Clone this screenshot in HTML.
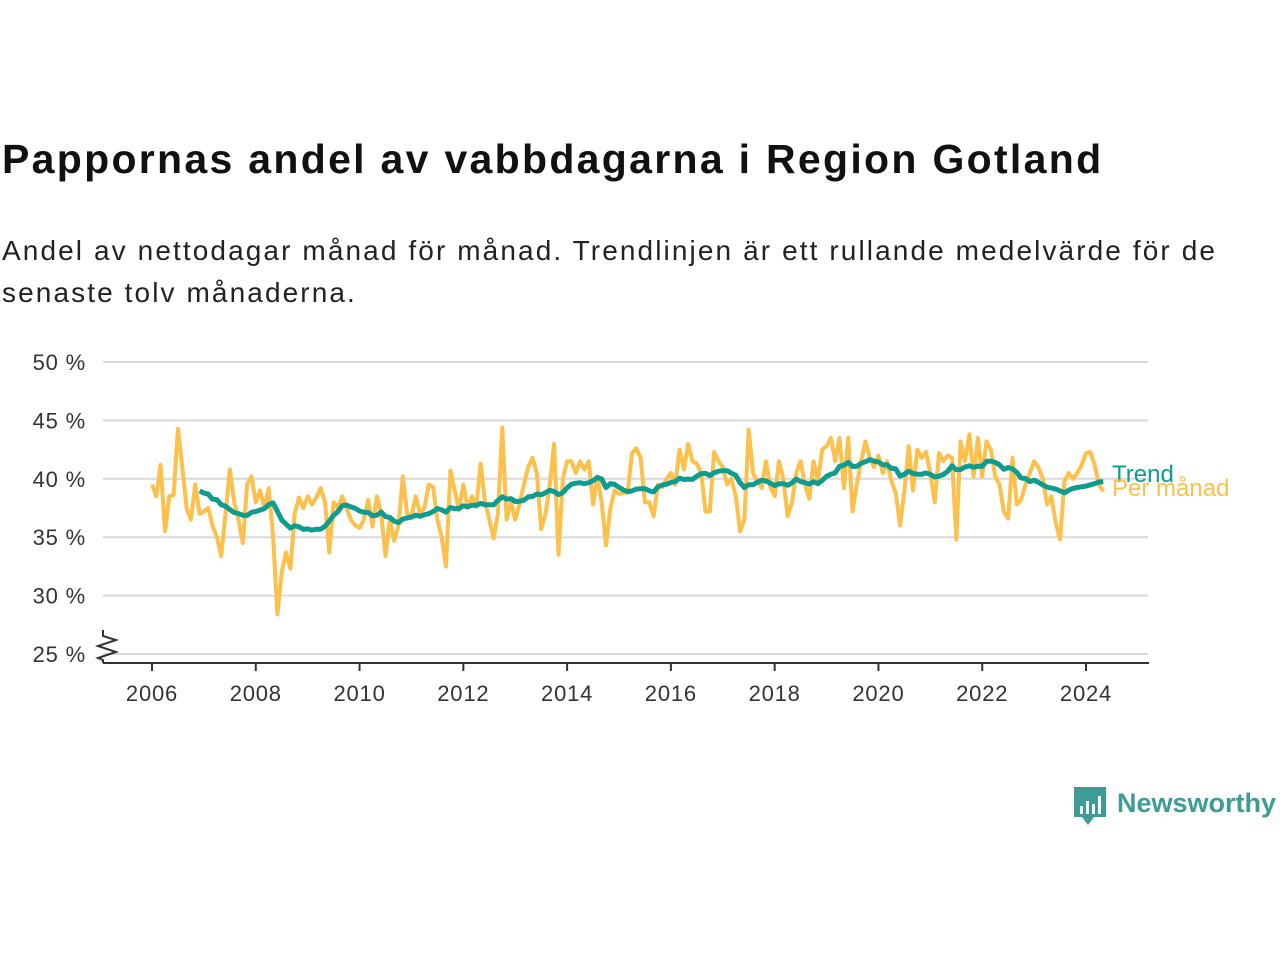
<!DOCTYPE html>
<html><head><meta charset="utf-8"><style>
body{margin:0;background:#fff;font-family:"Liberation Sans","DejaVu Sans",sans-serif;}
#wrap{position:relative;width:1280px;height:960px;overflow:hidden;}
h1{position:absolute;left:2px;top:136px;margin:0;font-size:41px;font-weight:bold;color:#111;letter-spacing:2.3px;white-space:nowrap;}
#sub{position:absolute;left:2px;top:230px;margin:0;font-size:28px;line-height:42px;color:#222;width:1270px;letter-spacing:2.1px;white-space:nowrap;}
</style></head><body>
<div id="wrap">
<h1>Pappornas andel av vabbdagarna i Region Gotland</h1>
<p id="sub">Andel av nettodagar månad för månad. Trendlinjen är ett rullande medelvärde för de<br>senaste tolv månaderna.</p>
<svg id="chart" width="1280" height="960" style="position:absolute;left:0;top:0"></svg>
</div>
<script>
const startYear = 2006;
const monthly = [
39.5,38.5,41.2,35.5,38.5,38.6,44.3,41,37.5,36.5,39.5,37,
37.2,37.5,36,35,33.4,37,40.8,38,36.5,34.5,39.5,40.2,
38,39,37.5,39.2,35,28.4,32,33.7,32.3,37,38.4,37.5,
38.5,37.8,38.4,39.2,38,33.7,38,37.5,38.5,37.5,36.5,36,
35.8,36.5,38.2,35.9,38.5,37,33.4,36.5,34.7,36,40.2,37,
36.8,38.5,37,37.5,39.5,39.3,36.5,35,32.5,40.7,39,37.3,
39.5,37.5,38.5,37.6,41.3,38,36.5,34.9,37,44.4,36.5,38,
36.5,37.8,39.5,41,41.8,40.5,35.7,37,39.5,43,33.5,40,
41.5,41.5,40.5,41.5,40.8,41.5,37.8,40.2,38,34.3,37.5,39,
38.7,38.8,38.8,42.2,42.6,41.8,38,38,36.8,39.5,39.3,40,
40.5,39.5,42.5,40.8,43,41.5,41.3,40.5,37.2,37.2,42.3,41.5,
41,39.5,40,38.5,35.5,36.5,44.2,40.5,39.8,39.2,41.5,39.3,
38.5,41.5,40,36.8,38,40.5,41.5,39.5,38.3,41.5,39.7,42.5,
42.8,43.5,41.5,43.5,39.2,43.5,37.2,39.5,41.5,43.2,41.8,41,
42,40.5,41.5,39.8,38.8,36,39,42.8,39,42.5,41.8,42.3,
40.5,38,42.2,41.5,42,41.8,34.8,43.2,41.5,43.8,40.2,43.5,
40.2,43.2,42.5,40.2,39.5,37.2,36.6,41.8,37.8,38.2,39.5,40.5,
41.5,41,40,37.8,38.5,36.2,34.8,39.8,40.5,40,40.5,41.2,
42.2,42.3,41.2,39.5,38.9];
const yTicks = [25,30,35,40,45,50];
const xTicks = [2006,2008,2010,2012,2014,2016,2018,2020,2022,2024];

const svg = document.getElementById('chart');
const NS = 'http://www.w3.org/2000/svg';
const xOf = t => 152 + (t - startYear) * (1086 - 152) / 18;
const yOf = v => 654 - (v - 25) * (654 - 362) / 25;
function mk(tag, attrs){const e=document.createElementNS(NS,tag);for(const k in attrs)e.setAttribute(k,attrs[k]);svg.appendChild(e);return e;}

yTicks.forEach(v=>{
  const g = mk('line',{x1:103,x2:1148,y1:yOf(v),y2:yOf(v),stroke:'#d9d9d9','stroke-width':2});
  
  
  const t = mk('text',{x:86,y:yOf(v)+8,'text-anchor':'end','font-size':22,fill:'#333','font-family':'Liberation Sans, DejaVu Sans, sans-serif','letter-spacing':0.8});
  t.textContent = v+' %';
  
  
});
const ax = mk('line',{x1:103,x2:1149,y1:663,y2:663,stroke:'#333','stroke-width':2});


const zz = mk('polyline',{points:'103,630 103,636 116,640 98,646 116,652 98,658 103,660 103,663',fill:'none',stroke:'#333','stroke-width':2});


xTicks.forEach(y=>{
  const l = mk('line',{x1:xOf(y),x2:xOf(y),y1:663,y2:671,stroke:'#333','stroke-width':2});
  
  
  const t = mk('text',{x:xOf(y),y:701,'text-anchor':'middle','font-size':22,fill:'#333','font-family':'Liberation Sans, DejaVu Sans, sans-serif','letter-spacing':0.8});
  t.textContent = y;
  
  
});
const mPts = monthly.map((v,i)=>xOf(startYear+i/12).toFixed(1)+','+yOf(v).toFixed(1)).join(' ');
const ml = mk('polyline',{points:mPts,fill:'none',stroke:'#fdc04a','stroke-width':4,'stroke-linejoin':'round'});


const tPts=[];
for(let i=11;i<monthly.length;i++){let s=0;for(let j=i-11;j<=i;j++)s+=monthly[j];tPts.push(xOf(startYear+i/12).toFixed(1)+','+yOf(s/12).toFixed(1));}
const tl = mk('polyline',{points:tPts.join(' '),fill:'none',stroke:'#0f9b8e','stroke-width':5,'stroke-linejoin':'round'});


const l1 = mk('text',{x:1112,y:482,'font-size':24,fill:'#0f9b8e','font-family':'Liberation Sans, DejaVu Sans, sans-serif'});
l1.textContent='Trend';


const l2 = mk('text',{x:1112,y:496,'font-size':24,fill:'#fdc04a','font-family':'Liberation Sans, DejaVu Sans, sans-serif'});
l2.textContent='Per månad';


const g = document.createElementNS(NS,'g');svg.appendChild(g);


const r = document.createElementNS(NS,'path');
r.setAttribute('d','M1074 787 h32 v30 h-12 l-6 8 l-6 -8 h-8 z');
r.setAttribute('fill','#3d9c93');g.appendChild(r);
[[1080,806,8],[1086,801,13],[1092,804,10],[1098,796,18]].forEach(b=>{const e=document.createElementNS(NS,'rect');e.setAttribute('x',b[0]);e.setAttribute('y',b[1]);e.setAttribute('width',3);e.setAttribute('height',b[2]);e.setAttribute('fill','#fff');g.appendChild(e);});
const lt = document.createElementNS(NS,'text');
lt.setAttribute('x',1117);lt.setAttribute('y',812);lt.setAttribute('font-size',27);lt.setAttribute('font-weight','bold');lt.setAttribute('fill','#3d9c93');lt.setAttribute('font-family','Liberation Sans, DejaVu Sans, sans-serif');
lt.textContent='Newsworthy';g.appendChild(lt);
</script>
</body></html>
